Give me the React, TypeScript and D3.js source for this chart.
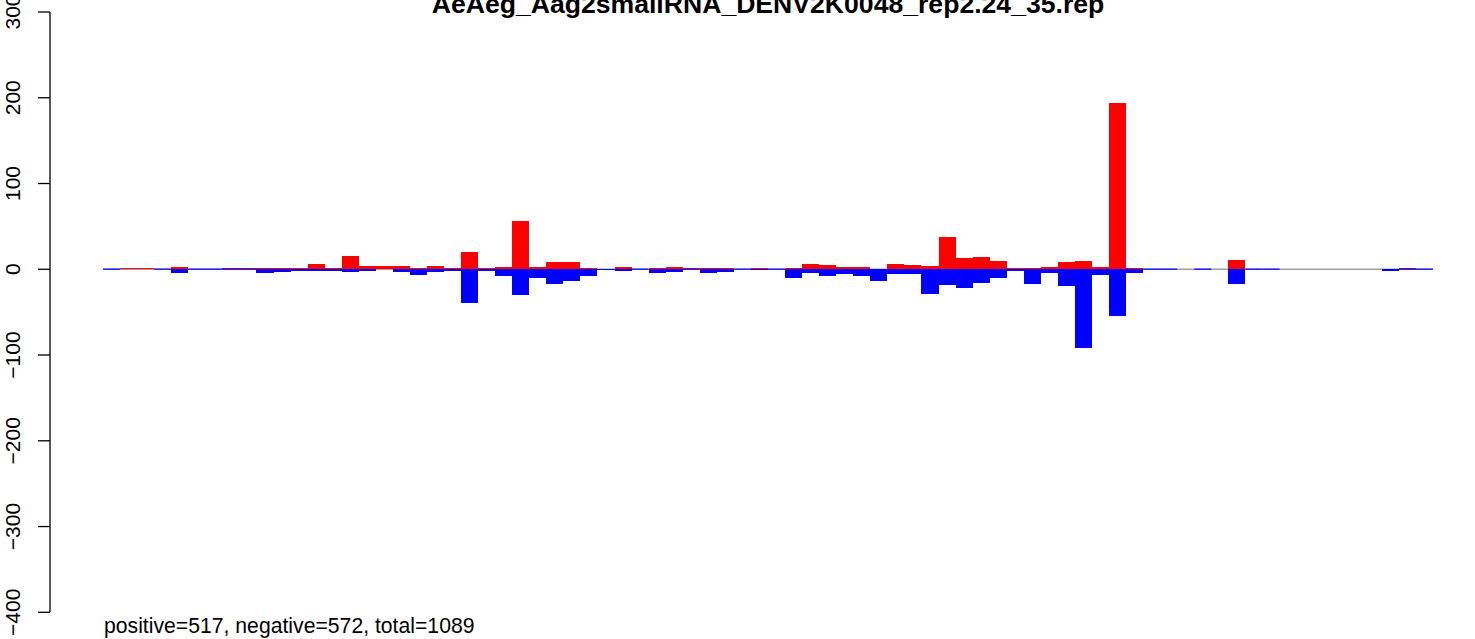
import React from "react";
import * as d3 from "d3";

const TITLE = "AeAeg_Aag2smallRNA_DENV2K0048_rep2.24_35.rep";
const FOOTER = "positive=517, negative=572, total=1089";

// bin index 0..77
const positive: (number | null)[] = [
  null, 1, 1, null, 3, null, null, 1, 1, 2,
  2, 2, 6, 2, 15, 4, 4, 4, 1, 4,
  1, 20, 2, 3, 56, 3, 8, 8, 2, 0,
  3, 0, 1, 3, 1, 1, 1, 0, 2, 0,
  2, 6, 5, 3, 3, 0, 6, 5, 4, 38,
  13, 14, 10, 1, 1, 3, 8, 10, 3, 194,
  2, 0, 0, 0, 0, 0, 11, 0, 0, 0,
  0, 0, 0, 0, 0, 0, 2, 0,
];

const negative: (number | null)[] = [
  0, null, null, 0, -4, 0, 0, 0, 0, -4,
  -3, -2, -2, -2, -3, -2, null, -3, -7, -3,
  -2, -39, -2, -8, -30, -10, -17, -14, -8, -1,
  -2, 0, -4, -3, 0, -4, -3, 0, -1, 0,
  -10, -4, -8, -5, -8, -14, -6, -6, -29, -18,
  -22, -16, -10, -2, -17, -4, -20, -92, -7, -55,
  -4, 0, 0, null, 0, null, -17, 0, 0, null,
  null, null, null, null, null, -2, 0, 0,
];

const yTicks = [-400, -300, -200, -100, 0, 100, 200, 300];

const W = 1475;
const H = 639;
const FONT = "'Liberation Sans', Arial, Helvetica, sans-serif";

export default function App() {
  const idx = positive.map((_, i) => i);
  const x = d3.scaleBand<number>().domain(idx).range([103, 1433]).padding(0);
  const y = d3.scaleLinear().domain([-400, 300]).range([612.3, 12]);
  const y0 = y(0);
  const bw = x.bandwidth();
  const axisX = 50;

  return (
    <svg
      width={W}
      height={H}
      style={{ position: "absolute", left: 0, top: 0, background: "#fff" }}
      fontFamily={FONT}
    >
      <rect x={0} y={0} width={W} height={H} fill="#fff" />
      {/* baseline */}
      <line x1={x(0)} x2={(x(idx.length - 1) as number) + bw} y1={y0} y2={y0} stroke="#a0a0a0" strokeWidth={1.5} />
      {/* positive bars */}
      {positive.map((v, i) => {
        if (v === null || v <= 0) return null;
        const top = y(v);
        const h = Math.max(y0 - top, 1);
        return <rect key={"p" + i} x={x(i)} y={y0 - h} width={bw} height={h} fill="#ff0000" shapeRendering="crispEdges" />;
      })}
      {/* negative bars */}
      {negative.map((v, i) => {
        if (v === null) return null;
        if (v === 0) {
          return <rect key={"n" + i} x={x(i)} y={y0 - 0.7} width={bw} height={1.2} fill="#0000ff" />;
        }
        const h = Math.max(y(v) - y0, 1);
        return <rect key={"n" + i} x={x(i)} y={y0 - 0.5} width={bw} height={h + 0.5} fill="#0000ff" shapeRendering="crispEdges" />;
      })}
      {/* y axis */}
      <line x1={axisX} x2={axisX} y1={y(300)} y2={y(-400)} stroke="#000" strokeWidth={1.3} />
      {yTicks.map((t) => (
        <g key={t}>
          <line x1={axisX - 12} x2={axisX} y1={y(t)} y2={y(t)} stroke="#000" strokeWidth={1.3} />
          <text
            transform={`translate(20,${y(t)}) rotate(-90)`}
            textAnchor="middle"
            fontSize={21}
            fill="#000"
          >
            {t < 0 ? "\u2212" + Math.abs(t) : String(t)}
          </text>
        </g>
      ))}
      {/* title */}
      <text x={768} y={12.7} textAnchor="middle" fontSize={26.6} fontWeight="bold" fill="#000">
        {TITLE}
      </text>
      {/* footer */}
      <text x={104} y={633} fontSize={21.2} fill="#000">
        {FOOTER}
      </text>
    </svg>
  );
}
